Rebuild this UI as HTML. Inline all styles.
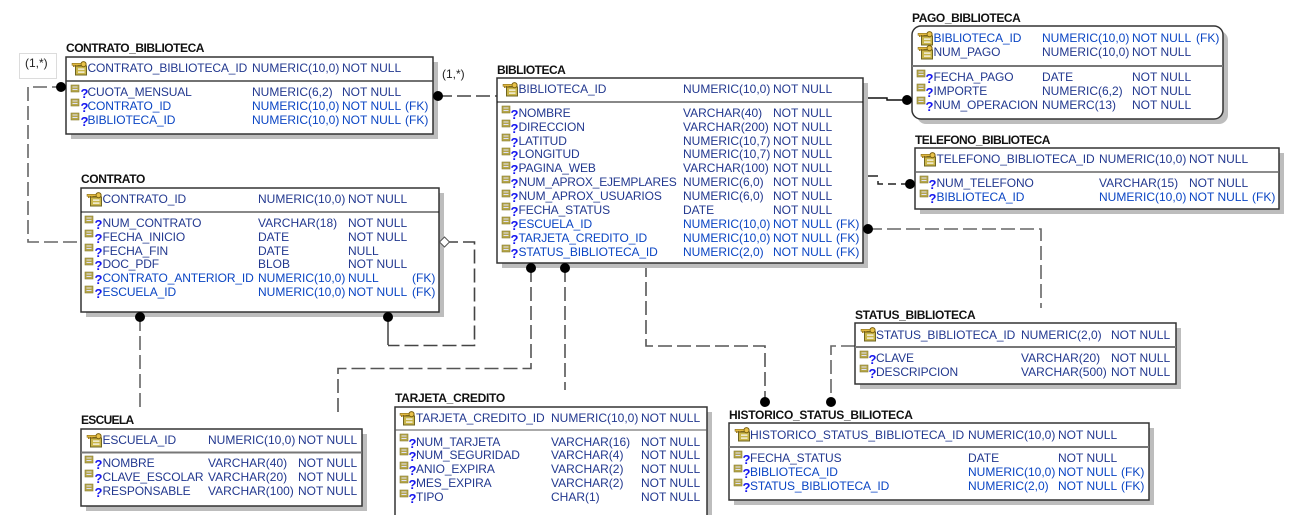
<!DOCTYPE html>
<html>
<head>
<meta charset="utf-8">
<style>
html,body{margin:0;padding:0;background:#fff;width:1291px;height:515px;overflow:hidden}
svg{display:block}
text{font-family:"Liberation Sans",Arial,sans-serif;font-size:12px}
.t{font-weight:bold;fill:#111}
.r{fill:#22388f}
.f{fill:#0a45c4}
.n{letter-spacing:-.12px}
.q{font-weight:bold;fill:#1616f0;font-size:13px}
.l{fill:#222}
.box{fill:#fff;stroke:#333;stroke-width:1.5}
.sh{fill:#bdbdbd}
.c{fill:none;stroke-width:1.6}
.g{stroke:#666;stroke-dasharray:14 5}
.k{stroke:#444;stroke-dasharray:14 5}
.m{stroke:#555;stroke-dasharray:14 5}
</style>
</head>
<body>
<svg width="1291" height="515" viewBox="0 0 1291 515" xmlns="http://www.w3.org/2000/svg">
<defs>
<g id="a"><rect x="0" y="0" width="8" height="7" fill="#b5a64a" stroke="#8a7d30" stroke-width=".6"/><rect x="1.500" y="1.500" width="5" height="1" fill="#dfe0f5"/><rect x="1.500" y="4" width="5" height="1" fill="#dfe0f5"/></g>
<g id="p"><rect x="3.500" y="5" width="11" height="9" fill="#c9b54a" stroke="#6e6420" stroke-width="1"/><rect x="6" y="7.500" width="6.500" height="1.200" fill="#fff"/><rect x="6" y="10.500" width="6.500" height="1.200" fill="#fff"/><circle cx="11.500" cy="3.200" r="2.600" fill="#e8c24a" stroke="#7a6010" stroke-width="1"/><rect x="0" y="2.300" width="9" height="2" fill="#e0b840" stroke="#7a6010" stroke-width=".5"/><rect x="1" y="4" width="1.600" height="2" fill="#a98420"/><rect x="4" y="4" width="1.600" height="2" fill="#a98420"/></g>
</defs>

<!-- connectors -->
<g class="c">
<path class="g" d="M66 87H28V242H81"/>
<path class="k" d="M438 96H497"/>
<path d="M863 98H887V100H907" fill="none" stroke="#111" stroke-width="1.500"/>
<path d="M863 176H878" fill="none" stroke="#222" stroke-width="1.500"/>
<path d="M878 181V184H910" fill="none" stroke="#222" stroke-width="1.500" stroke-dasharray="8 5"/>
<path class="g" d="M868 229H1041V308"/>
<path class="k" d="M444 242H474.500V345.500H388"/>
<path d="M388 317V345" fill="none" stroke="#111" stroke-width="1.200"/>
<path class="g" d="M140 317V412"/>
<path class="m" d="M531 268V368.500H338V412"/>
<path class="m" d="M565 268V390"/>
<path class="m" d="M646 263V346H765V402"/>
<path class="g" d="M855 346H831V402"/>
</g>

<!-- label box -->
<rect x="19.500" y="53.500" width="37" height="25" fill="#fff" stroke="#dcdcdc"/>
<text class="l" x="25" y="67">(1,*)</text>
<text class="l" x="442" y="78">(1,*)</text>

<!-- CONTRATO_BIBLIOTECA -->
<rect class="sh" x="71" y="62" width="367" height="77"/>
<rect class="box" x="66" y="57" width="367" height="77"/>
<path d="M66 81H433" stroke="#444" stroke-width="1.500"/>
<text class="t" x="66" y="52" style="letter-spacing:-.47px">CONTRATO_BIBLIOTECA</text>
<use href="#p" x="72" y="61"/>
<text class="r" y="72"><tspan class="n" x="87.500">CONTRATO_BIBLIOTECA_ID</tspan><tspan x="252">NUMERIC(10,0)</tspan><tspan x="342">NOT NULL</tspan></text>
<use href="#a" x="71" y="85"/><text class="q" x="80.500" y="98">?</text>
<text class="r" y="96"><tspan class="n" x="87.500">CUOTA_MENSUAL</tspan><tspan x="252">NUMERIC(6,2)</tspan><tspan x="342">NOT NULL</tspan></text>
<use href="#a" x="71" y="99"/><text class="q" x="80.500" y="112">?</text>
<text class="f" y="110"><tspan class="n" x="87.500">CONTRATO_ID</tspan><tspan x="252">NUMERIC(10,0)</tspan><tspan x="342">NOT NULL</tspan><tspan x="405">(FK)</tspan></text>
<use href="#a" x="71" y="113"/><text class="q" x="80.500" y="126">?</text>
<text class="f" y="124"><tspan class="n" x="87.500">BIBLIOTECA_ID</tspan><tspan x="252">NUMERIC(10,0)</tspan><tspan x="342">NOT NULL</tspan><tspan x="405">(FK)</tspan></text>

<!-- CONTRATO -->
<rect class="sh" x="86" y="193" width="358" height="124"/>
<rect class="box" x="81" y="188" width="358" height="124"/>
<path d="M81 212H439" stroke="#111" stroke-width="1"/>
<text class="t" x="81" y="183" style="letter-spacing:-.37px">CONTRATO</text>
<use href="#p" x="87" y="192"/>
<text class="r" y="203"><tspan class="n" x="102.500">CONTRATO_ID</tspan><tspan x="258">NUMERIC(10,0)</tspan><tspan x="348">NOT NULL</tspan></text>
<use href="#a" x="85" y="216"/><text class="q" x="94.500" y="229">?</text>
<text class="r" y="227"><tspan class="n" x="102.500">NUM_CONTRATO</tspan><tspan x="258">VARCHAR(18)</tspan><tspan x="348">NOT NULL</tspan></text>
<use href="#a" x="85" y="230"/><text class="q" x="94.500" y="243">?</text>
<text class="r" y="241"><tspan class="n" x="102.500">FECHA_INICIO</tspan><tspan x="258">DATE</tspan><tspan x="348">NOT NULL</tspan></text>
<use href="#a" x="85" y="244"/><text class="q" x="94.500" y="257">?</text>
<text class="r" y="255"><tspan class="n" x="102.500">FECHA_FIN</tspan><tspan x="258">DATE</tspan><tspan x="348">NULL</tspan></text>
<use href="#a" x="85" y="258"/><text class="q" x="94.500" y="270">?</text>
<text class="r" y="268"><tspan class="n" x="102.500">DOC_PDF</tspan><tspan x="258">BLOB</tspan><tspan x="348">NOT NULL</tspan></text>
<use href="#a" x="85" y="272"/><text class="q" x="94.500" y="284">?</text>
<text class="f" y="282"><tspan class="n" x="102.500">CONTRATO_ANTERIOR_ID</tspan><tspan x="258">NUMERIC(10,0)</tspan><tspan x="348">NULL</tspan><tspan x="412">(FK)</tspan></text>
<use href="#a" x="85" y="286"/><text class="q" x="94.500" y="298">?</text>
<text class="f" y="296"><tspan class="n" x="102.500">ESCUELA_ID</tspan><tspan x="258">NUMERIC(10,0)</tspan><tspan x="348">NOT NULL</tspan><tspan x="412">(FK)</tspan></text>

<!-- BIBLIOTECA -->
<rect class="sh" x="502" y="83" width="366" height="185"/>
<rect class="box" x="497" y="78" width="366" height="185"/>
<path d="M497 102H863" stroke="#111" stroke-width="1"/>
<text class="t" x="497" y="74" style="letter-spacing:-.5px">BIBLIOTECA</text>
<use href="#p" x="503" y="82"/>
<text class="r" y="93"><tspan class="n" x="518.500">BIBLIOTECA_ID</tspan><tspan x="683">NUMERIC(10,0)</tspan><tspan x="773">NOT NULL</tspan></text>
<use href="#a" x="502" y="106"/><text class="q" x="510.500" y="119">?</text>
<text class="r" y="117"><tspan class="n" x="518.500">NOMBRE</tspan><tspan x="683">VARCHAR(40)</tspan><tspan x="773">NOT NULL</tspan></text>
<use href="#a" x="502" y="120"/><text class="q" x="510.500" y="133">?</text>
<text class="r" y="131"><tspan class="n" x="518.500">DIRECCION</tspan><tspan x="683">VARCHAR(200)</tspan><tspan x="773">NOT NULL</tspan></text>
<use href="#a" x="502" y="134"/><text class="q" x="510.500" y="147">?</text>
<text class="r" y="145"><tspan class="n" x="518.500">LATITUD</tspan><tspan x="683">NUMERIC(10,7)</tspan><tspan x="773">NOT NULL</tspan></text>
<use href="#a" x="502" y="148"/><text class="q" x="510.500" y="160">?</text>
<text class="r" y="158"><tspan class="n" x="518.500">LONGITUD</tspan><tspan x="683">NUMERIC(10,7)</tspan><tspan x="773">NOT NULL</tspan></text>
<use href="#a" x="502" y="162"/><text class="q" x="510.500" y="174">?</text>
<text class="r" y="172"><tspan class="n" x="518.500">PAGINA_WEB</tspan><tspan x="683">VARCHAR(100)</tspan><tspan x="773">NOT NULL</tspan></text>
<use href="#a" x="502" y="176"/><text class="q" x="510.500" y="188">?</text>
<text class="r" y="186"><tspan x="518.500" style="letter-spacing:-.2px">NUM_APROX_EJEMPLARES</tspan><tspan x="683">NUMERIC(6,0)</tspan><tspan x="773">NOT NULL</tspan></text>
<use href="#a" x="502" y="190"/><text class="q" x="510.500" y="202">?</text>
<text class="r" y="200"><tspan class="n" x="518.500">NUM_APROX_USUARIOS</tspan><tspan x="683">NUMERIC(6,0)</tspan><tspan x="773">NOT NULL</tspan></text>
<use href="#a" x="502" y="203"/><text class="q" x="510.500" y="216">?</text>
<text class="r" y="214"><tspan class="n" x="518.500">FECHA_STATUS</tspan><tspan x="683">DATE</tspan><tspan x="773">NOT NULL</tspan></text>
<use href="#a" x="502" y="217"/><text class="q" x="510.500" y="230">?</text>
<text class="f" y="228"><tspan class="n" x="518.500">ESCUELA_ID</tspan><tspan x="683">NUMERIC(10,0)</tspan><tspan x="773">NOT NULL</tspan><tspan x="836">(FK)</tspan></text>
<use href="#a" x="502" y="231"/><text class="q" x="510.500" y="244">?</text>
<text class="f" y="242"><tspan class="n" x="518.500">TARJETA_CREDITO_ID</tspan><tspan x="683">NUMERIC(10,0)</tspan><tspan x="773">NOT NULL</tspan><tspan x="836">(FK)</tspan></text>
<use href="#a" x="502" y="245"/><text class="q" x="510.500" y="258">?</text>
<text class="f" y="256"><tspan class="n" x="518.500">STATUS_BIBLIOTECA_ID</tspan><tspan x="683">NUMERIC(2,0)</tspan><tspan x="773">NOT NULL</tspan><tspan x="836">(FK)</tspan></text>

<!-- PAGO_BIBLIOTECA -->
<rect class="sh" x="917" y="31" width="311" height="93" rx="9"/>
<rect class="box" x="912" y="26" width="311" height="93" rx="9"/>
<path d="M912 66H1223" stroke="#777" stroke-width="2"/>
<text class="t" x="912" y="22" style="letter-spacing:-.4px">PAGO_BIBLIOTECA</text>
<use href="#p" x="918" y="31"/>
<text class="f" y="42"><tspan class="n" x="933.500">BIBLIOTECA_ID</tspan><tspan x="1042">NUMERIC(10,0)</tspan><tspan x="1132">NOT NULL</tspan><tspan x="1196">(FK)</tspan></text>
<use href="#p" x="918" y="45"/>
<text class="r" y="56"><tspan class="n" x="933.500">NUM_PAGO</tspan><tspan x="1042">NUMERIC(10,0)</tspan><tspan x="1132">NOT NULL</tspan></text>
<use href="#a" x="917" y="70"/><text class="q" x="925.500" y="83">?</text>
<text class="r" y="81"><tspan class="n" x="933.500">FECHA_PAGO</tspan><tspan x="1042">DATE</tspan><tspan x="1132">NOT NULL</tspan></text>
<use href="#a" x="917" y="84"/><text class="q" x="925.500" y="97">?</text>
<text class="r" y="95"><tspan class="n" x="933.500">IMPORTE</tspan><tspan x="1042">NUMERIC(6,2)</tspan><tspan x="1132">NOT NULL</tspan></text>
<use href="#a" x="917" y="97"/><text class="q" x="925.500" y="111">?</text>
<text class="r" y="109"><tspan class="n" x="933.500">NUM_OPERACION</tspan><tspan x="1042">NUMERC(13)</tspan><tspan x="1132">NOT NULL</tspan></text>

<!-- TELEFONO_BIBLIOTECA -->
<rect class="sh" x="920" y="153" width="364" height="61"/>
<rect class="box" x="915" y="148" width="364" height="61"/>
<path d="M915 172H1279" stroke="#666" stroke-width="1.500"/>
<text class="t" x="915" y="144" style="letter-spacing:-.55px">TELEFONO_BIBLIOTECA</text>
<use href="#p" x="921" y="152"/>
<text class="r" y="163"><tspan class="n" x="936.500">TELEFONO_BIBLIOTECA_ID</tspan><tspan x="1099">NUMERIC(10,0)</tspan><tspan x="1189">NOT NULL</tspan></text>
<use href="#a" x="920" y="176"/><text class="q" x="928.500" y="189">?</text>
<text class="r" y="187"><tspan class="n" x="936.500">NUM_TELEFONO</tspan><tspan x="1099">VARCHAR(15)</tspan><tspan x="1189">NOT NULL</tspan></text>
<use href="#a" x="920" y="190"/><text class="q" x="928.500" y="203">?</text>
<text class="f" y="201"><tspan class="n" x="936.500">BIBLIOTECA_ID</tspan><tspan x="1099">NUMERIC(10,0)</tspan><tspan x="1189">NOT NULL</tspan><tspan x="1252">(FK)</tspan></text>

<!-- ESCUELA -->
<rect class="sh" x="86" y="434" width="281" height="77"/>
<rect class="box" x="81" y="429" width="281" height="77"/>
<path d="M81 452.500H362" stroke="#777" stroke-width="2"/>
<text class="t" x="81" y="424" style="letter-spacing:-.7px">ESCUELA</text>
<use href="#p" x="87" y="433"/>
<text class="r" y="444"><tspan class="n" x="102.500">ESCUELA_ID</tspan><tspan x="208">NUMERIC(10,0)</tspan><tspan x="298">NOT NULL</tspan></text>
<use href="#a" x="85" y="456"/><text class="q" x="94.500" y="469">?</text>
<text class="r" y="467"><tspan class="n" x="102.500">NOMBRE</tspan><tspan x="208">VARCHAR(40)</tspan><tspan x="298">NOT NULL</tspan></text>
<use href="#a" x="85" y="470"/><text class="q" x="94.500" y="483">?</text>
<text class="r" y="481"><tspan class="n" x="102.500">CLAVE_ESCOLAR</tspan><tspan x="208">VARCHAR(20)</tspan><tspan x="298">NOT NULL</tspan></text>
<use href="#a" x="85" y="484"/><text class="q" x="94.500" y="497">?</text>
<text class="r" y="495"><tspan class="n" x="102.500">RESPONSABLE</tspan><tspan x="208">VARCHAR(100)</tspan><tspan x="298">NOT NULL</tspan></text>

<!-- TARJETA_CREDITO -->
<rect class="sh" x="400" y="412" width="312" height="120"/>
<rect class="box" x="395" y="407" width="312" height="120"/>
<path d="M395 430H707" stroke="#555" stroke-width="1"/>
<text class="t" x="395" y="402" style="letter-spacing:-.27px">TARJETA_CREDITO</text>
<use href="#p" x="400" y="411"/>
<text class="r" y="422"><tspan class="n" x="416">TARJETA_CREDITO_ID</tspan><tspan x="551">NUMERIC(10,0)</tspan><tspan x="641">NOT NULL</tspan></text>
<use href="#a" x="400" y="434"/><text class="q" x="408.500" y="448">?</text>
<text class="r" y="446"><tspan class="n" x="416">NUM_TARJETA</tspan><tspan x="551">VARCHAR(16)</tspan><tspan x="641">NOT NULL</tspan></text>
<use href="#a" x="400" y="448"/><text class="q" x="408.500" y="461">?</text>
<text class="r" y="459"><tspan class="n" x="416">NUM_SEGURIDAD</tspan><tspan x="551">VARCHAR(4)</tspan><tspan x="641">NOT NULL</tspan></text>
<use href="#a" x="400" y="462"/><text class="q" x="408.500" y="475">?</text>
<text class="r" y="473"><tspan class="n" x="416">ANIO_EXPIRA</tspan><tspan x="551">VARCHAR(2)</tspan><tspan x="641">NOT NULL</tspan></text>
<use href="#a" x="400" y="476"/><text class="q" x="408.500" y="489">?</text>
<text class="r" y="487"><tspan class="n" x="416">MES_EXPIRA</tspan><tspan x="551">VARCHAR(2)</tspan><tspan x="641">NOT NULL</tspan></text>
<use href="#a" x="400" y="490"/><text class="q" x="408.500" y="503">?</text>
<text class="r" y="501"><tspan class="n" x="416">TIPO</tspan><tspan x="551">CHAR(1)</tspan><tspan x="641">NOT NULL</tspan></text>

<!-- STATUS_BIBLIOTECA -->
<rect class="sh" x="860" y="328" width="321" height="61"/>
<rect class="box" x="855" y="323" width="321" height="61"/>
<path d="M855 347H1176" stroke="#777" stroke-width="2"/>
<text class="t" x="855" y="319" style="letter-spacing:-.35px">STATUS_BIBLIOTECA</text>
<use href="#p" x="861" y="327"/>
<text class="r" y="339"><tspan class="n" x="876">STATUS_BIBLIOTECA_ID</tspan><tspan x="1021">NUMERIC(2,0)</tspan><tspan x="1111">NOT NULL</tspan></text>
<use href="#a" x="860" y="351"/><text class="q" x="868.500" y="364">?</text>
<text class="r" y="362"><tspan class="n" x="876">CLAVE</tspan><tspan x="1021">VARCHAR(20)</tspan><tspan x="1111">NOT NULL</tspan></text>
<use href="#a" x="860" y="365"/><text class="q" x="868.500" y="378">?</text>
<text class="r" y="376"><tspan class="n" x="876">DESCRIPCION</tspan><tspan x="1021">VARCHAR(500)</tspan><tspan x="1111">NOT NULL</tspan></text>

<!-- HISTORICO_STATUS_BILIOTECA -->
<rect class="sh" x="734" y="428" width="420" height="77"/>
<rect class="box" x="729" y="423" width="420" height="77"/>
<path d="M729 447H1149" stroke="#777" stroke-width="2"/>
<text class="t" x="729" y="419" style="letter-spacing:-.27px">HISTORICO_STATUS_BILIOTECA</text>
<use href="#p" x="735" y="427"/>
<text class="r" y="439"><tspan x="750" style="letter-spacing:-.02px">HISTORICO_STATUS_BIBLIOTECA_ID</tspan><tspan x="968">NUMERIC(10,0)</tspan><tspan x="1058">NOT NULL</tspan></text>
<use href="#a" x="734" y="451"/><text class="q" x="742.500" y="464">?</text>
<text class="r" y="462"><tspan class="n" x="750">FECHA_STATUS</tspan><tspan x="968">DATE</tspan><tspan x="1058">NOT NULL</tspan></text>
<use href="#a" x="734" y="465"/><text class="q" x="742.500" y="478">?</text>
<text class="f" y="476"><tspan class="n" x="750">BIBLIOTECA_ID</tspan><tspan x="968">NUMERIC(10,0)</tspan><tspan x="1058">NOT NULL</tspan><tspan x="1121">(FK)</tspan></text>
<use href="#a" x="734" y="479"/><text class="q" x="742.500" y="492">?</text>
<text class="f" y="490"><tspan class="n" x="750">STATUS_BIBLIOTECA_ID</tspan><tspan x="968">NUMERIC(2,0)</tspan><tspan x="1058">NOT NULL</tspan><tspan x="1121">(FK)</tspan></text>

<!-- connector ends -->
<g fill="#000">
<circle cx="61" cy="87" r="5"/>
<circle cx="438" cy="96" r="5"/>
<circle cx="907" cy="100" r="5"/>
<circle cx="910" cy="184" r="5"/>
<circle cx="868" cy="229" r="5"/>
<circle cx="140" cy="317" r="5"/>
<circle cx="388" cy="317" r="5"/>
<circle cx="531" cy="268" r="5"/>
<circle cx="565" cy="268" r="5"/>
<circle cx="765" cy="402" r="5"/>
<circle cx="831" cy="402" r="5"/>
</g>
<path d="M439.500 242L444.500 237L449.500 242L444.500 247Z" fill="#fff" stroke="#555" stroke-width="1"/>
</svg>
</body>
</html>
